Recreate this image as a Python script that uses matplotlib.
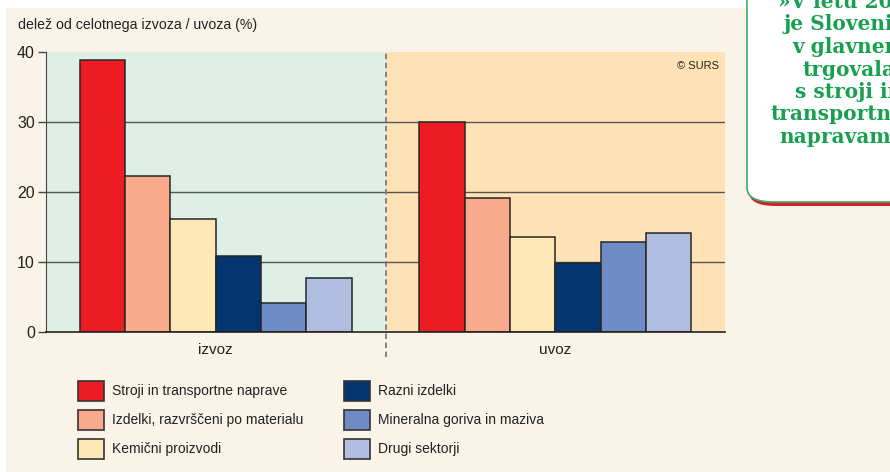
import matplotlib.pyplot as plt
from matplotlib.patches import Rectangle, FancyBboxPatch
import numpy as np

# podatki (odčitani s slike)
sektorji = ["Stroji in transportne naprave", "Izdelki, razvrščeni po materialu",
            "Kemični proizvodi", "Razni izdelki", "Mineralna goriva in maziva",
            "Drugi sektorji"]
skupine = ["izvoz", "uvoz"]
izvoz = [38.9, 22.3, 16.2, 10.8, 4.2, 7.7]
uvoz = [30.0, 19.2, 13.6, 9.9, 12.9, 14.1]
yticks = [0, 10, 20, 30, 40]

barve = ["#ED1C24", "#F9A98C", "#FEE9B6", "#033570", "#6E8BC6", "#AFBDE0"]
W, H = 890, 472


def fx(x):
    return x / W


def fy(y):
    return 1 - y / H


plt.rcParams['font.family'] = ['Liberation Sans', 'DejaVu Sans']
fig = plt.figure(figsize=(8.9, 4.72), dpi=100, facecolor="white")

# ozadje
fig.patches.append(Rectangle((fx(6), 0), 1, fy(8), transform=fig.transFigure,
                             facecolor="#FAF3E8", edgecolor="none", zorder=-1))

ax = fig.add_axes([fx(46), fy(332), fx(725) - fx(46), fy(52) - fy(332)])
ax.set_zorder(1)
ax.set_facecolor("none")
ax.set_xlim(-0.5, 1.5)
ax.set_ylim(0, 40)
ax.axvspan(-0.5, 0.5, color="#DEEFE5", zorder=0, lw=0)
ax.axvspan(0.5, 1.5, color="#FFE3B7", zorder=0, lw=0)
for y in yticks[1:-1]:
    ax.axhline(y, color="#555555", lw=1, zorder=1)

w = 0.1335
for i in range(len(sektorji)):
    vrednosti = [izvoz[i], uvoz[i]]
    xs = np.arange(len(skupine)) + (i - 2.5) * w
    ax.bar(xs, vrednosti, width=w, color=barve[i], edgecolor="#262626",
           linewidth=1.1, zorder=2)

ax.plot([0.5, 0.5], [-3.6, 40], color="#7A7A7A", lw=1.3, ls=(0, (3, 2)),
        clip_on=False, zorder=3)

for i, s in enumerate(skupine):
    ax.text(i, -2.6, s, ha="center", va="center", fontsize=11, color="#222222")

ax.set_xticks([])
ax.set_yticks(yticks)
ax.tick_params(axis="y", length=6, width=1, color="#444444", labelsize=11.5,
               labelcolor="#222222", pad=2)
for s in ["top", "right"]:
    ax.spines[s].set_visible(False)
ax.spines["left"].set_color("#444444")
ax.spines["bottom"].set_color("#222222")
ax.spines["bottom"].set_linewidth(1.2)

fig.text(fx(18), fy(25), "delež od celotnega izvoza / uvoza (%)", fontsize=10.2,
         color="#222222", ha="left", va="center")
ax.text(0.991, 0.95, "© SURS", transform=ax.transAxes, fontsize=8,
        ha="right", va="center", color="#222222")

# legenda
for i, s in enumerate(sektorji):
    col, row = divmod(i, 3)
    px = 78 if col == 0 else 344
    cy = 391 + row * 28.8
    fig.patches.append(Rectangle((fx(px), fy(cy + 10)), fx(26), 20 / H,
                                 transform=fig.transFigure, facecolor=barve[i],
                                 edgecolor="#333333", lw=1.2, zorder=2))
    fig.text(fx(px + 34), fy(cy), s, fontsize=10, ha="left", va="center",
             color="#222222")

# okvir z besedilom desno
senca = FancyBboxPatch((fx(749), fy(206)), fx(200), fy(-40) - fy(206),
                       boxstyle="round,pad=0,rounding_size=0.03",
                       transform=fig.transFigure, facecolor="#D4202A",
                       edgecolor="none", zorder=3)
okvir = FancyBboxPatch((fx(747), fy(202)), fx(200), fy(-40) - fy(202),
                       boxstyle="round,pad=0,rounding_size=0.03",
                       transform=fig.transFigure, facecolor="white",
                       edgecolor="#3DAA6A", lw=1.2, zorder=4)
fig.patches.append(senca)
fig.patches.append(okvir)

vrstice = ["»V letu 2009", "je Slovenija", "v glavnem", "trgovala",
           "s stroji in", "transportnimi", "napravami.«"]
for i, v in enumerate(vrstice):
    fig.text(fx(849), fy(8 + i * 22.5), v, fontsize=14.5, fontweight="bold",
             family="DejaVu Serif", color="#17A04F", ha="center",
             va="baseline", zorder=5)

fig.savefig("out.png", dpi=100, facecolor=fig.get_facecolor())
